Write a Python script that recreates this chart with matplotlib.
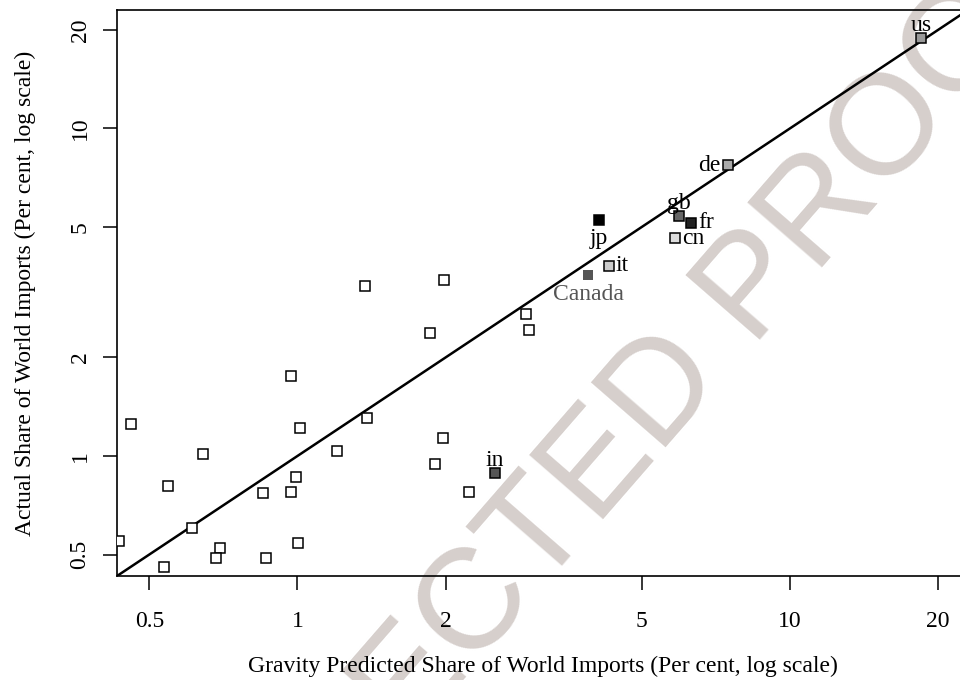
import numpy as np
import matplotlib
matplotlib.use('Agg')
import matplotlib.pyplot as plt

plt.rcParams['font.family'] = ['Liberation Serif', 'DejaVu Serif']

# 未标注的国家（预测份额, 实际份额）
other_x = [1.374, 1.987, 2.918, 2.955, 1.855, 0.971, 0.460, 1.014, 1.387, 1.971,
           0.644, 1.204, 1.902, 0.546, 0.994, 0.850, 0.971, 2.226, 0.610, 0.435,
           0.695, 0.683, 0.862, 1.001, 0.535]
other_y = [3.295, 3.453, 2.713, 2.417, 2.378, 1.760, 1.250, 1.220, 1.310, 1.137,
           1.012, 1.036, 0.947, 0.811, 0.861, 0.772, 0.776, 0.776, 0.601, 0.551,
           0.524, 0.489, 0.489, 0.543, 0.457]

# 标注的国家
codes = ['us', 'de', 'gb', 'fr', 'jp', 'cn', 'it', 'in', 'Canada']
code_x = [18.50, 7.474, 5.954, 6.306, 4.100, 5.836, 4.288, 2.513, 3.898]
code_y = [18.85, 7.723, 5.393, 5.148, 5.269, 4.618, 3.803, 0.885, 3.559]
code_fill = ['#999999', '#aaaaaa', '#666666', '#222222', '#000000', '#dddddd', '#cccccc', '#555555', '#555555']
code_edge = ['black', 'black', 'black', 'black', 'black', 'black', 'black', 'black', 'none']
# 标签位置: 1 下, 2 左, 3 上, 4 右 (R 的 pos 习惯)
code_pos = [3, 2, 3, 4, 1, 4, 4, 3, 1]

ticks = [0.5, 1, 2, 5, 10, 20]
tick_labels = ['0.5', '1', '2', '5', '10', '20']
lims = (0.43, 23.0)

fig = plt.figure(figsize=(9.6, 6.8), dpi=100)
ax = fig.add_axes([117 / 960, 1 - 576 / 680, (968 - 117) / 960, (576 - 10) / 680])
ax.patch.set_alpha(0)

# 水印
fig.text(0.605, 0.281, 'CORRECTED PROOF', family='Liberation Sans', fontsize=103,
         color='#d6cfcc', rotation=49, rotation_mode='anchor', ha='center', va='center',
         zorder=-5)

ax.set_xscale('log')
ax.set_yscale('log')
ax.set_xlim(lims)
ax.set_ylim(lims)

ax.plot(lims, lims, color='black', lw=1.8, zorder=2)

ax.plot(other_x, other_y, ls='none', marker='s', ms=7.5, mfc='white', mec='black', mew=1.1, zorder=3)
for c, x, y, fc, ec, p in zip(codes, code_x, code_y, code_fill, code_edge, code_pos):
    ax.plot([x], [y], ls='none', marker='s', ms=7.5, mfc=fc, mec=ec, mew=1.1, zorder=3)
    off = {1: (0, -6), 2: (-5, 0), 3: (0, 2), 4: (5, 0)}[p]
    ha = {1: 'center', 2: 'right', 3: 'center', 4: 'left'}[p]
    va = {1: 'top', 2: 'center', 3: 'bottom', 4: 'center'}[p]
    col = '#555555' if c == 'Canada' else 'black'
    ax.annotate(c, (x, y), xytext=off, textcoords='offset points', ha=ha, va=va,
                fontsize=17, color=col, zorder=4)

ax.set_xticks(ticks)
ax.set_xticklabels(tick_labels)
ax.set_yticks(ticks)
ax.set_yticklabels(tick_labels, rotation=90, va='center')
ax.minorticks_off()
ax.tick_params(axis='both', direction='out', length=10, width=1.1, labelsize=17)
ax.tick_params(axis='x', pad=15)
ax.tick_params(axis='y', pad=9)
for s in ax.spines.values():
    s.set_linewidth(1.2)

ax.set_xlabel('Gravity Predicted Share of World Imports (Per cent, log scale)', fontsize=17, labelpad=17)
ax.set_ylabel('Actual Share of World Imports (Per cent, log scale)', fontsize=17, labelpad=24)

fig.savefig('out.png', dpi=100)
